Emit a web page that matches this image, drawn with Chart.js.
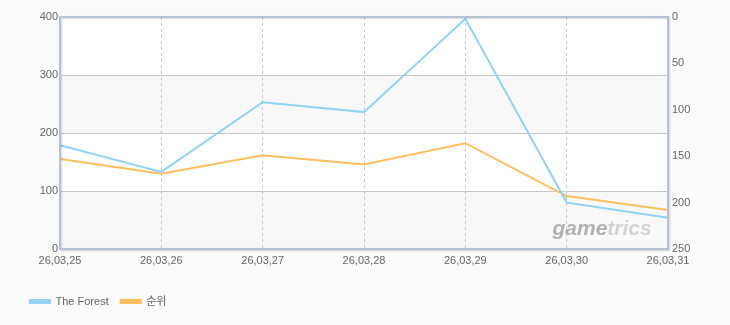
<!DOCTYPE html>
<html>
<head>
<meta charset="utf-8">
<script src="https://cdn.jsdelivr.net/npm/chart.js@4/dist/chart.umd.min.js"></script>
<style>
html,body{margin:0;padding:0;background:#fbfbfb;}
#wrap{width:730px;height:325px;position:relative;}
</style>
</head>
<body>
<div id="wrap"><canvas id="c" width="730" height="325"></canvas></div>
<script>
const categories = ["26,03,25","26,03,26","26,03,27","26,03,28","26,03,29","26,03,30","26,03,31"];
const forestValues = [179, 133, 253, 236, 397, 80, 54];
const rankValues = [153, 169, 149, 159, 136, 193, 208];
const leftTicks = [0, 100, 200, 300, 400];
const rightTicks = [0, 50, 100, 150, 200, 250];
const seriesNames = ["The Forest", "순위"];
const seriesColors = ["#92d2f2", "#fdbf5e"];

const FONT = {family: "'Liberation Sans', 'Noto Sans CJK KR', sans-serif", size: 11};
const TXT = "#666666";

const decor = {
  id: 'decor',
  beforeDraw(chart) {
    const ctx = chart.ctx, a = chart.chartArea, y = chart.scales.y;
    ctx.save();
    ctx.fillStyle = '#fbfbfb';
    ctx.fillRect(0, 0, chart.width, chart.height);
    for (let i = 0; i < leftTicks.length - 1; i++) {
      const t = y.getPixelForValue(leftTicks[i + 1]);
      const b = y.getPixelForValue(leftTicks[i]);
      ctx.fillStyle = (i % 2 === 0) ? '#f9f9f9' : '#ffffff';
      ctx.fillRect(a.left, t, a.right - a.left, b - t);
    }
    ctx.restore();
  },
  beforeDatasetsDraw(chart) {
    const ctx = chart.ctx, a = chart.chartArea;
    ctx.save();
    ctx.font = "italic bold 21px 'Liberation Sans', sans-serif";
    ctx.textBaseline = 'alphabetic';
    ctx.textAlign = 'left';
    const x0 = a.left + (a.right - a.left) * 0.81, y0 = a.bottom - 14;
    ctx.fillStyle = 'rgba(165,165,165,0.85)';
    ctx.fillText('game', x0, y0);
    const w = ctx.measureText('game').width;
    ctx.fillStyle = 'rgba(205,205,205,0.85)';
    ctx.fillText('trics', x0 + w, y0);
    ctx.restore();
  },
  afterDraw(chart) {
    const ctx = chart.ctx, a = chart.chartArea;
    ctx.save();
    ctx.shadowColor = 'rgba(0,0,0,0.18)';
    ctx.shadowOffsetX = 1;
    ctx.shadowOffsetY = 1;
    ctx.shadowBlur = 2;
    ctx.strokeStyle = '#b3c3d5';
    ctx.lineWidth = 2;
    ctx.strokeRect(a.left, a.top, a.right - a.left, a.bottom - a.top);
    ctx.restore();
  }
};

new Chart(document.getElementById('c'), {
  type: 'line',
  data: {
    labels: categories,
    datasets: [
      {label: seriesNames[0], data: forestValues, yAxisID: 'y', borderColor: seriesColors[0], backgroundColor: seriesColors[0], borderWidth: 2, pointRadius: 0, tension: 0},
      {label: seriesNames[1], data: rankValues, yAxisID: 'y1', borderColor: seriesColors[1], backgroundColor: seriesColors[1], borderWidth: 2, pointRadius: 0, tension: 0}
    ]
  },
  options: {
    responsive: false,
    animation: false,
    events: [],
    layout: {padding: {top: 17, left: 18, right: 0, bottom: 8}},
    plugins: {
      tooltip: {enabled: false},
      legend: {
        position: 'bottom',
        align: 'start',
        labels: {boxWidth: 20, boxHeight: 3, padding: 12, color: TXT, font: FONT}
      }
    },
    scales: {
      x: {
        offset: false,
        grid: {color: '#c8c8c8', drawTicks: false},
        border: {display: false, dash: [3, 3]},
        ticks: {color: TXT, font: FONT, padding: 5, maxRotation: 0, autoSkip: false},
        afterFit(s) { s.height = 35; }
      },
      y: {
        position: 'left',
        min: 0, max: 400,
        afterBuildTicks(s) { s.ticks = leftTicks.map(v => ({value: v})); },
        grid: {color: '#c8c8c8', drawTicks: false},
        border: {display: false},
        ticks: {color: TXT, font: FONT, padding: 2},
        afterFit(s) { s.width = 42; }
      },
      y1: {
        position: 'right',
        reverse: true,
        min: 0, max: 250,
        afterBuildTicks(s) { s.ticks = rightTicks.map(v => ({value: v})); },
        grid: {display: false, drawTicks: false},
        border: {display: false},
        ticks: {color: TXT, font: FONT, padding: 4},
        afterFit(s) { s.width = 62; }
      }
    }
  },
  plugins: [decor]
});
</script>
</body>
</html>
